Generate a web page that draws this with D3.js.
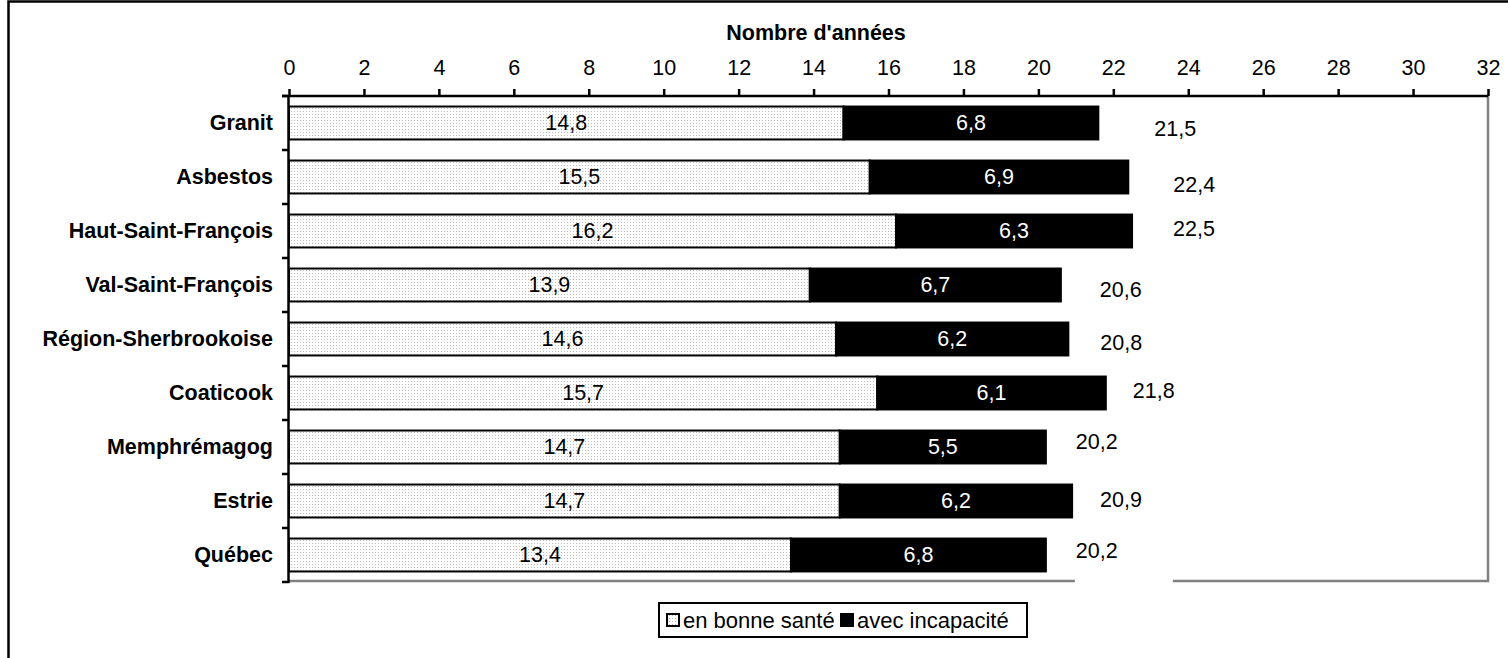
<!DOCTYPE html>
<html><head><meta charset="utf-8">
<script src="https://cdn.jsdelivr.net/npm/d3@7"></script>
<style>
html,body{margin:0;padding:0;background:#fff;}
svg{display:block;font-family:Arial,"Liberation Sans",sans-serif;}
</style></head>
<body>
<svg id="c" width="1508" height="658"></svg>
<script>
const categories = ["Granit","Asbestos","Haut-Saint-François","Val-Saint-François","Région-Sherbrookoise","Coaticook","Memphrémagog","Estrie","Québec"];
const bonneSante = [14.8,15.5,16.2,13.9,14.6,15.7,14.7,14.7,13.4];
const incapacite = [6.8,6.9,6.3,6.7,6.2,6.1,5.5,6.2,6.8];
const totals = [21.5,22.4,22.5,20.6,20.8,21.8,20.2,20.9,20.2];
const xTicks = d3.range(0,33,2);
const seriesNames = ["en bonne santé","avec incapacité"];
const axisTitle = "Nombre d'années";

const FS = 21.5;
const fr = d3.formatLocale({decimal:",",thousands:" ",grouping:[3],currency:["","$"]});
const fmt = fr.format(".1f");

const svg = d3.select("#c");
const x = d3.scaleLinear().domain([0,32]).range([289,1488]);
const y = d3.scaleBand().domain(categories).range([96,582]).paddingInner(0.39).paddingOuter(0.195);

// pattern
const defs = svg.append("defs");
const pat = defs.append("pattern").attr("id","dots").attr("patternUnits","userSpaceOnUse")
  .attr("width",3).attr("height",3);
pat.append("rect").attr("width",3).attr("height",3).attr("fill","#fff");
pat.append("rect").attr("width",1).attr("height",1).attr("fill","#bdbdbd");

// outer frame (left & top)
svg.append("path").attr("d","M8.5,658 V1.5 H1508").attr("fill","none").attr("stroke","#000").attr("stroke-width",2.5);

// gray plot border right & bottom
svg.append("path").attr("d",`M${x(32)},${y.range()[0]} V581 H${x(0)}`).attr("fill","none").attr("stroke","#808080").attr("stroke-width",2.5);

const rows = categories.map((c,i)=>({c, a:bonneSante[i], b:incapacite[i], t:totals[i]}));

// total label nudges (layout)
const nudgeX = [56,45,41,39,32,27,30,28,30];
const nudgeY = [6,8,-2,5,4,-2,-5,-1,-4];

// white label boxes behind totals
svg.append("g").selectAll("rect").data(rows).join("rect")
  .attr("x",(d,i)=>x(d.a+d.b)+nudgeX[i]-1)
  .attr("y",(d,i)=>y(d.c)+y.bandwidth()/2+nudgeY[i]-31)
  .attr("width",98).attr("height",63).attr("fill","#fff");

// bars
const g = svg.append("g");
g.selectAll("rect.a").data(rows).join("rect").attr("class","a")
  .attr("x",x(0)).attr("y",d=>y(d.c)).attr("width",d=>x(d.a)-x(0)).attr("height",y.bandwidth())
  .attr("fill","url(#dots)").attr("stroke","#000").attr("stroke-width",2);
g.selectAll("rect.b").data(rows).join("rect").attr("class","b")
  .attr("x",d=>x(d.a)).attr("y",d=>y(d.c)).attr("width",d=>x(d.a+d.b)-x(d.a)).attr("height",y.bandwidth())
  .attr("fill","#000").attr("stroke","#000").attr("stroke-width",2);

// segment labels
g.selectAll("text.a").data(rows).join("text").attr("class","a")
  .attr("x",d=>(x(0)+x(d.a))/2).attr("y",d=>y(d.c)+y.bandwidth()/2)
  .attr("text-anchor","middle").attr("dominant-baseline","central")
  .attr("font-size",FS).attr("fill","#000").text(d=>fmt(d.a));
g.selectAll("text.b").data(rows).join("text").attr("class","b")
  .attr("x",d=>(x(d.a)+x(d.a+d.b))/2).attr("y",d=>y(d.c)+y.bandwidth()/2)
  .attr("text-anchor","middle").attr("dominant-baseline","central")
  .attr("font-size",FS).attr("fill","#fff").text(d=>fmt(d.b));
g.selectAll("text.t").data(rows).join("text").attr("class","t")
  .attr("x",(d,i)=>x(d.a+d.b)+nudgeX[i]).attr("y",(d,i)=>y(d.c)+y.bandwidth()/2+nudgeY[i])
  .attr("text-anchor","start").attr("dominant-baseline","central")
  .attr("font-size",FS).attr("fill","#000").text(d=>fmt(d.t));

// top axis
const xa = svg.append("g").attr("transform","translate(0,96)")
  .call(d3.axisTop(x).tickValues(xTicks).tickFormat(d=>d).tickSize(7).tickSizeOuter(0).tickPadding(14));
xa.select(".domain").attr("stroke","#000").attr("stroke-width",2.5).attr("d",`M282,0H${x(32)}`);
xa.selectAll(".tick line").attr("stroke","#000").attr("stroke-width",2.5);
xa.selectAll(".tick text").attr("font-size",FS).attr("font-family","Arial,'Liberation Sans',sans-serif").attr("fill","#000");

// left axis
const boundaries = categories.map(c=>y(c)-y.step()*y.paddingInner()/2).concat([582]);
svg.append("line").attr("x1",288.5).attr("x2",288.5).attr("y1",96).attr("y2",583).attr("stroke","#000").attr("stroke-width",2.5);
svg.append("g").selectAll("line").data(boundaries).join("line")
  .attr("x1",282).attr("x2",289).attr("y1",d=>d).attr("y2",d=>d).attr("stroke","#000").attr("stroke-width",2.5);
svg.append("g").selectAll("text").data(categories).join("text")
  .attr("x",273).attr("y",d=>y(d)+y.bandwidth()/2).attr("text-anchor","end").attr("dominant-baseline","central")
  .attr("font-size",FS).attr("font-weight","bold").text(d=>d);

// axis title
svg.append("text").attr("x",816).attr("y",33).attr("text-anchor","middle").attr("dominant-baseline","central")
  .attr("font-size",FS).attr("font-weight","bold").text(axisTitle);

// legend
const lg = svg.append("g");
lg.append("rect").attr("x",659).attr("y",603).attr("width",368).attr("height",34).attr("fill","#fff").attr("stroke","#000").attr("stroke-width",2);
const items = [{n:seriesNames[0],f:"url(#dots)",x:667},{n:seriesNames[1],f:"#000",x:841}];
items.forEach(it=>{
  lg.append("rect").attr("x",it.x).attr("y",614).attr("width",12).attr("height",12).attr("fill",it.f).attr("stroke","#000").attr("stroke-width",2);
  lg.append("text").attr("x",it.x+16).attr("y",620).attr("dominant-baseline","central").attr("font-size",22).text(it.n);
});
</script>
</body></html>
